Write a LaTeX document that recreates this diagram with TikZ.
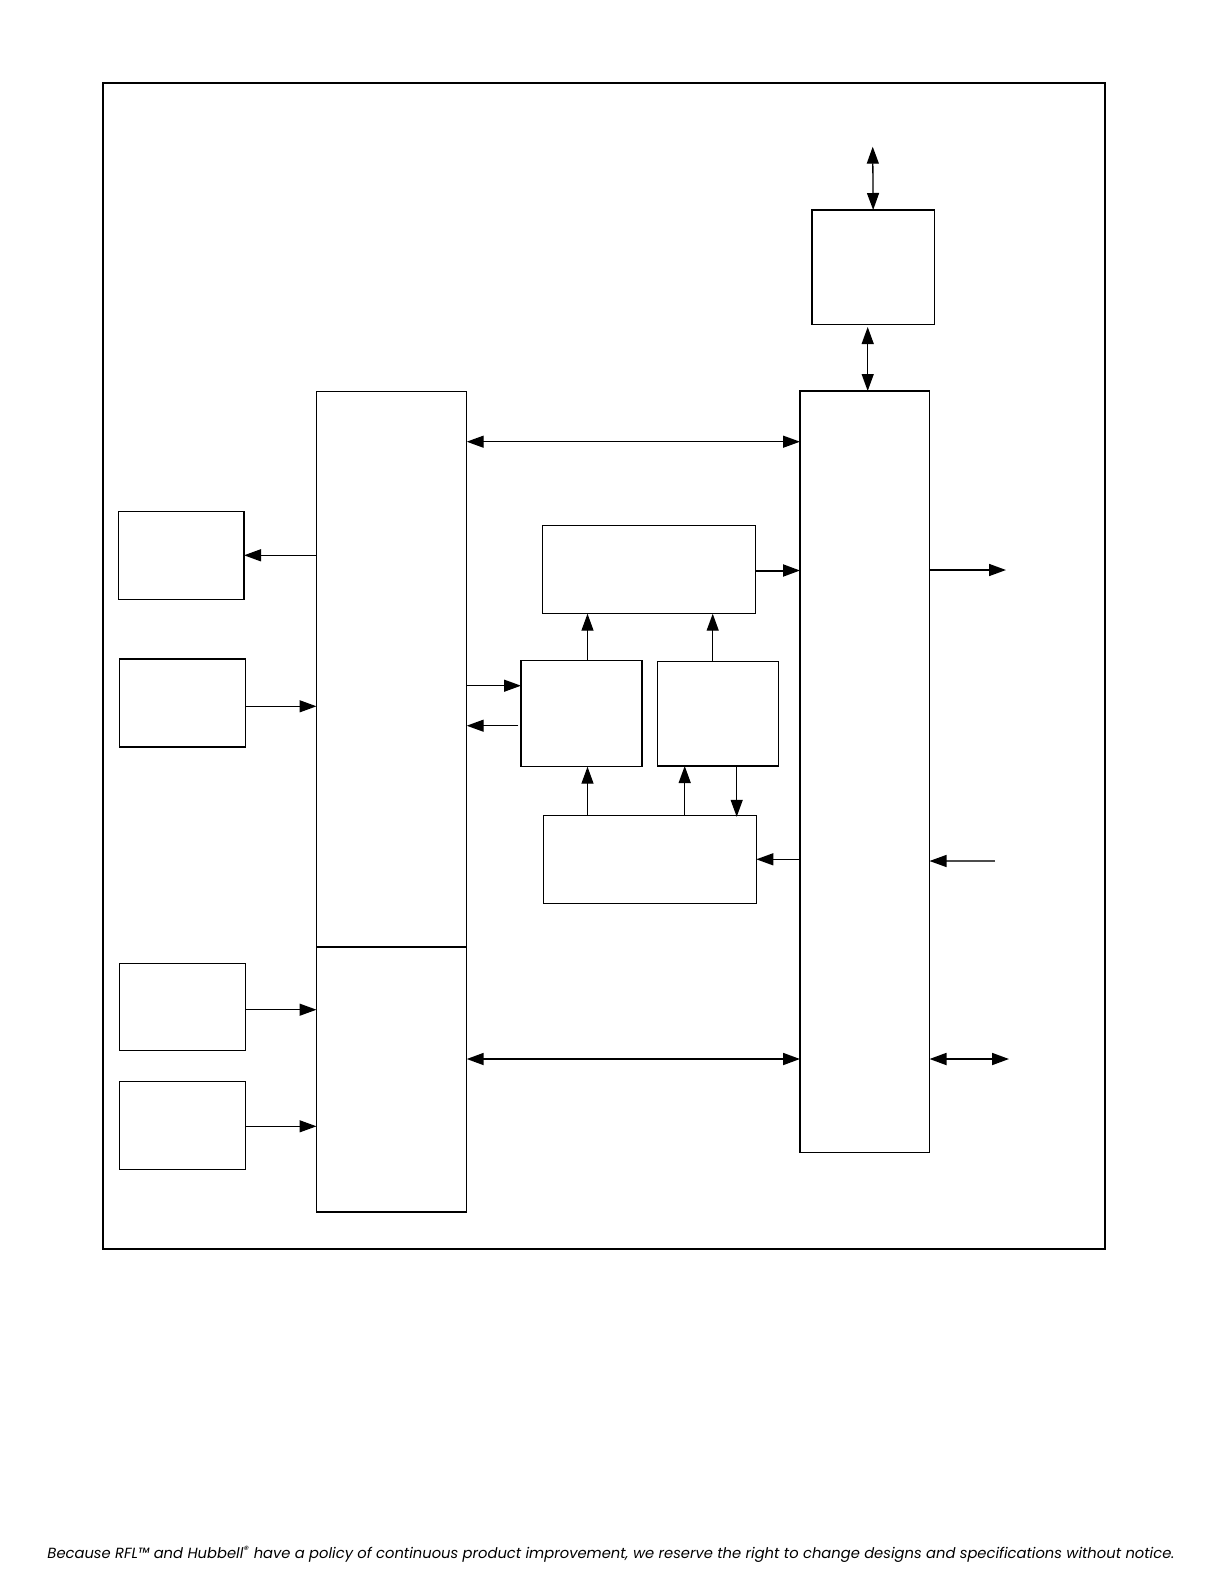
\documentclass[tikz,border=0pt]{standalone}
\usepackage{fontspec}
\newfontfamily\footfont{Poppins}
\usetikzlibrary{arrows.meta}
\tikzset{
  box/.style={draw=black, line width=1.5pt, inner sep=0pt, outer sep=0pt, anchor=north west},
  arr/.style={line width=1.3pt, -{Triangle[length=17pt,width=12pt]}},
  dbl/.style={line width=1.3pt, {Triangle[length=17pt,width=12pt]}-{Triangle[length=17pt,width=12pt]}},
}
\begin{document}
\begin{tikzpicture}[x=1pt,y=-1pt]
\useasboundingbox (0,0) rectangle (1224,1584);
% frame
\node[box, line width=2pt, minimum width=1001.5pt, minimum height=1166.5pt] (frame) at (103.3,82.7) {};
% boxes
\node[box, minimum width=122.3pt, minimum height=114.3pt] (T) at (812,210) {};
\node[box, minimum width=129.5pt, minimum height=761.3pt] (R) at (800,391) {};
\node[box, minimum width=150.2pt, minimum height=555.5pt] (Aup) at (316.5,391.5) {};
\node[box, minimum width=150.2pt, minimum height=265pt] (Alow) at (316.5,947) {};
\node[box, minimum width=125.7pt, minimum height=88pt] (L1) at (118.3,511.3) {};
\node[box, minimum width=125.6pt, minimum height=88pt] (L2) at (119.7,659) {};
\node[box, minimum width=125.6pt, minimum height=87.4pt] (L3) at (119.7,963.3) {};
\node[box, minimum width=125.6pt, minimum height=87.6pt] (L4) at (119.7,1081.7) {};
\node[box, minimum width=213.4pt, minimum height=88.4pt] (M1) at (542.3,525.3) {};
\node[box, minimum width=121pt, minimum height=106.4pt] (M2) at (521,660.3) {};
\node[box, minimum width=121pt, minimum height=104.3pt] (M3) at (657.3,661.7) {};
\node[box, minimum width=213pt, minimum height=88pt] (M4) at (543.3,815.3) {};
% level coordinates
\coordinate (tfree) at (872.7,146.7);
\coordinate (tlow) at (867.7,327);
\coordinate (y441) at (0,441.7);
\coordinate (y555) at (0,555.3);
\coordinate (y570) at (0,570.5);
\coordinate (y686) at (0,685.7);
\coordinate (y706) at (0,706.3);
\coordinate (y726) at (0,725.7);
\coordinate (y859) at (0,859.3);
\coordinate (y1010) at (0,1009.7);
\coordinate (y1126) at (0,1126.3);
\coordinate (y1059) at (0,1059);
\coordinate (x587) at (587.5,0);
\coordinate (x685) at (684.7,0);
\coordinate (x713) at (712.7,0);
\coordinate (x737) at (736.7,0);
\coordinate (m2out) at (518.3,725.7);
\coordinate (rout) at (1006,570);
\coordinate (rin) at (995,861);
\coordinate (rbi) at (1009,1059);
% connectors
\draw[dbl] (tfree) -- (T.north);
\draw[dbl] (tlow) -- (tlow |- R.north);
\draw[dbl] (Aup.east |- y441) -- (R.west |- y441);
\draw[arr] (Aup.west |- y555) -- (L1.east |- y555);
\draw[arr] (L2.east |- y706) -- (Aup.west |- y706);
\draw[arr] (L3.east |- y1010) -- (Alow.west |- y1010);
\draw[arr] (L4.east |- y1126) -- (Alow.west |- y1126);
\draw[arr] (Aup.east |- y686) -- (M2.west |- y686);
\draw[arr] (m2out) -- (Aup.east |- y726);
\draw[arr] (x587 |- M2.north) -- (x587 |- M1.south);
\draw[arr] (x713 |- M3.north) -- (x713 |- M1.south);
\draw[arr] (x587 |- M4.north) -- (x587 |- M2.south);
\draw[arr] (x685 |- M4.north) -- (x685 |- M3.south);
\draw[arr] (x737 |- M3.south) -- ([yshift=-1.5pt]x737 |- M4.north);
\draw[arr] (R.west |- y859) -- (M4.east |- y859);
\draw[arr, line width=2pt] (M1.east |- y570) -- (R.west |- y570);
\draw[arr, line width=1.6pt] (R.east |- rout) -- (rout);
\draw[line width=1.3pt, draw=black!70, -{Triangle[length=17pt,width=12pt,black]}] (rin) -- (R.east |- rin);
\draw[dbl, line width=1.8pt] (R.east |- rbi) -- (rbi);
\draw[dbl, line width=1.8pt] (Alow.east |- y1059) -- (R.west |- y1059);
% footer
\node (foot) at (611,1554) {\resizebox{1127pt}{!}{\footfont\itshape Because RFL™ and Hubbell\textsuperscript{®} have a policy of continuous product improvement, we reserve the right to change designs and specifications without notice.}};
\end{tikzpicture}
\end{document}
